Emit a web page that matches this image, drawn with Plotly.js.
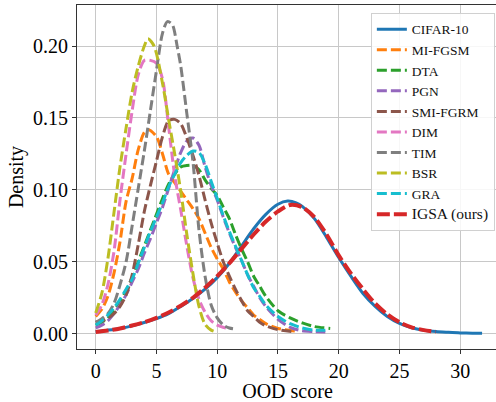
<!DOCTYPE html>
<html><head><meta charset="utf-8">
<script src="https://cdn.plot.ly/plotly-3.0.1.min.js"></script>
<style>html,body{margin:0;padding:0;overflow:hidden;background:#fff}</style>
</head><body><div id="chart" style="width:498px;height:402px"></div>
<script>
// ---- data ----
const cifarX = [0,1,2,3,4,5,6,7,8,9,10,11,12,13,14,15,15.8,16.5,17,18,19,20,21,22,23,24,25,26,27,28,29,30,31,31.8];
const cifarY = [0.0015,0.0025,0.0037,0.0055,0.0078,0.0105,0.014,0.019,0.0245,0.031,0.039,0.049,0.061,0.073,0.083,0.090,0.0922,0.091,0.0885,0.080,0.067,0.053,0.040,0.028,0.019,0.012,0.0072,0.0042,0.0025,0.0015,0.001,0.0006,0.0004,0.0003];

const mifgsmX = [0,0.5,1,1.5,2,2.5,3,3.5,4,4.3,5,5.5,6,6.5,7,7.5,8,8.5,9,9.5,10,10.5,11,11.5,12,12.5,13,13.5,14,15,16.4];
const mifgsmY = [0.012,0.017,0.026,0.042,0.064,0.092,0.108,0.128,0.140,0.142,0.137,0.125,0.111,0.105,0.099,0.093,0.087,0.080,0.070,0.060,0.052,0.045,0.036,0.029,0.023,0.018,0.013,0.010,0.007,0.0037,0.0019];

const dtaX = [0,0.5,1,1.5,2,2.5,3,3.5,4,4.5,5,5.5,6,6.5,7,7.5,8,8.5,9,9.5,10,10.5,11,11.5,12,12.5,13,13.5,14,15,16,17,18,19.3];
const dtaY = [0.006,0.008,0.011,0.016,0.022,0.030,0.039,0.050,0.061,0.072,0.083,0.094,0.104,0.111,0.116,0.117,0.117,0.114,0.107,0.101,0.096,0.088,0.080,0.069,0.059,0.050,0.040,0.033,0.026,0.016,0.011,0.0075,0.005,0.0037];

const pgnX = [0,0.5,1,1.5,2,2.5,3,3.5,4,4.5,5,5.5,6,6.5,7,7.5,8,8.5,9,9.5,10,10.5,11,11.5,12,12.5,13,13.5,14,15,16,17,18,18.9];
const pgnY = [0.004,0.006,0.009,0.014,0.020,0.027,0.036,0.045,0.056,0.066,0.077,0.088,0.101,0.114,0.126,0.134,0.136,0.131,0.116,0.103,0.093,0.081,0.070,0.060,0.051,0.041,0.033,0.025,0.019,0.010,0.0045,0.002,0.0015,0.0012];

const smiX = [0,0.5,1,1.5,2,2.5,3,3.5,4,4.5,5,5.5,6,6.5,7,7.5,8,8.5,9,9.5,10,10.5,11,11.5,12,12.5,13,13.5,14,15,16.4];
const smiY = [0.008,0.009,0.0107,0.014,0.019,0.027,0.041,0.062,0.085,0.103,0.120,0.137,0.148,0.149,0.146,0.136,0.124,0.110,0.093,0.077,0.063,0.050,0.040,0.031,0.023,0.016,0.012,0.008,0.0055,0.0028,0.0014];

const dimX = [0,0.5,1,1.5,2,2.5,3,3.5,4,4.5,5,5.5,6,6.5,7,7.5,8,8.5,9,9.5,10,10.8];
const dimY = [0.013,0.020,0.034,0.057,0.093,0.125,0.155,0.180,0.190,0.190,0.188,0.177,0.144,0.110,0.086,0.061,0.039,0.024,0.015,0.009,0.006,0.0037];

const timX = [0,0.5,1,1.5,2,2.5,3,3.5,4,4.5,5,5.5,5.9,6.3,6.7,7,7.5,8,8.5,9,9.5,10,10.5,11,11.3];
const timY = [0.008,0.0105,0.014,0.021,0.034,0.050,0.075,0.101,0.127,0.155,0.183,0.209,0.217,0.215,0.200,0.186,0.153,0.120,0.072,0.040,0.020,0.011,0.006,0.004,0.0035];

const bsrX = [0,0.5,1,1.5,2,2.5,3,3.5,4,4.3,4.8,5.5,6,6.5,7,7.5,8,8.5,9,9.5,10];
const bsrY = [0.0145,0.028,0.052,0.084,0.116,0.143,0.168,0.186,0.200,0.205,0.200,0.174,0.149,0.125,0.099,0.069,0.042,0.019,0.0065,0.0025,0.001];

const graX = [0,0.5,1,1.5,2,2.5,3,3.5,4,4.5,5,5.5,6,6.5,7,7.5,8,8.5,9,9.5,10,10.5,11,11.5,12,12.5,13,13.5,14,15,16,17,18,18.9];
const graY = [0.006,0.009,0.013,0.018,0.024,0.031,0.038,0.049,0.060,0.071,0.081,0.091,0.102,0.111,0.119,0.124,0.127,0.126,0.118,0.106,0.094,0.082,0.071,0.061,0.051,0.041,0.032,0.026,0.020,0.012,0.007,0.004,0.0025,0.0025];

const igsaX = [0,1,2,3,4,5,6,7,8,9,10,11,12,13,14,15,16,17,18,19,20,21,22,23,24,25,26,27,28];
const igsaY = [0.0012,0.0022,0.0037,0.0057,0.008,0.011,0.0148,0.0195,0.025,0.032,0.040,0.049,0.059,0.069,0.078,0.085,0.0895,0.088,0.081,0.069,0.0545,0.042,0.031,0.021,0.0135,0.008,0.0045,0.0025,0.0014];

const seriesNames = ['CIFAR-10','MI-FGSM','DTA','PGN','SMI-FGRM','DIM','TIM','BSR','GRA','IGSA (ours)'];
const seriesColors = ['#1f77b4','#ff7f0e','#2ca02c','#9467bd','#8c564b','#e377c2','#7f7f7f','#bcbd22','#17becf','#d62728'];
const xTickVals = [0,5,10,15,20,25,30];
const yTickVals = [0,0.05,0.10,0.15,0.20];

// ---- build traces ----
const xs = [cifarX,mifgsmX,dtaX,pgnX,smiX,dimX,timX,bsrX,graX,igsaX];
const ys = [cifarY,mifgsmY,dtaY,pgnY,smiY,dimY,timY,bsrY,graY,igsaY];
const traces = xs.map((x,i)=>{
  const isBase = i===0, isOurs = i===xs.length-1;
  return {
    x: x, y: ys[i], type:'scatter', mode:'lines',
    name: isOurs ? '<span style="font-size:15.5px">'+seriesNames[i]+'</span>' : seriesNames[i],
    line: {
      color: seriesColors[i], shape:'spline', smoothing:0.8,
      width: isBase ? 3 : (isOurs ? 4 : 3),
      dash: isBase ? 'solid' : (isOurs ? '13px,4px' : '10px,4px')
    },
    hoverinfo:'skip'
  };
});

const font = '"Liberation Serif", "Times New Roman", serif';
const layout = {
  width: 498, height: 402,
  margin: {l:77, r:0, t:5, b:53},
  paper_bgcolor:'#fff', plot_bgcolor:'#fff',
  font: {family: font, color:'#000', size:20},
  showlegend: true,
  legend: {
    x: 0.698, y: 0.977, xanchor:'left', yanchor:'top',
    bgcolor:'rgba(255,255,255,0.85)', bordercolor:'#d0d0d0', borderwidth:1,
    font:{family: font, size:13.5, color:'#111'}
  },
  xaxis: {
    range:[-1.54, 33.11], tickvals: xTickVals,
    ticks:'outside', ticklen:4, tickwidth:1, tickcolor:'#333',
    showline:true, mirror:true, linecolor:'#333', linewidth:1,
    showgrid:true, gridcolor:'#c8c8c8', gridwidth:1, zeroline:false,
    tickfont:{family:font, size:20, color:'#000'},
    title:{text:'OOD score', font:{family:font, size:20, color:'#000'}, standoff:6}
  },
  yaxis: {
    range:[-0.0106, 0.2285], tickvals: yTickVals, tickformat:'.2f',
    ticks:'outside', ticklen:4, tickwidth:1, tickcolor:'#333',
    showline:true, mirror:true, linecolor:'#333', linewidth:1,
    showgrid:true, gridcolor:'#c8c8c8', gridwidth:1, zeroline:false,
    tickfont:{family:font, size:20, color:'#000'},
    title:{text:'Density', font:{family:font, size:20, color:'#000'}, standoff:4}
  }
};
Plotly.newPlot('chart', traces, layout, {displayModeBar:false, staticPlot:true});
</script></body></html>
